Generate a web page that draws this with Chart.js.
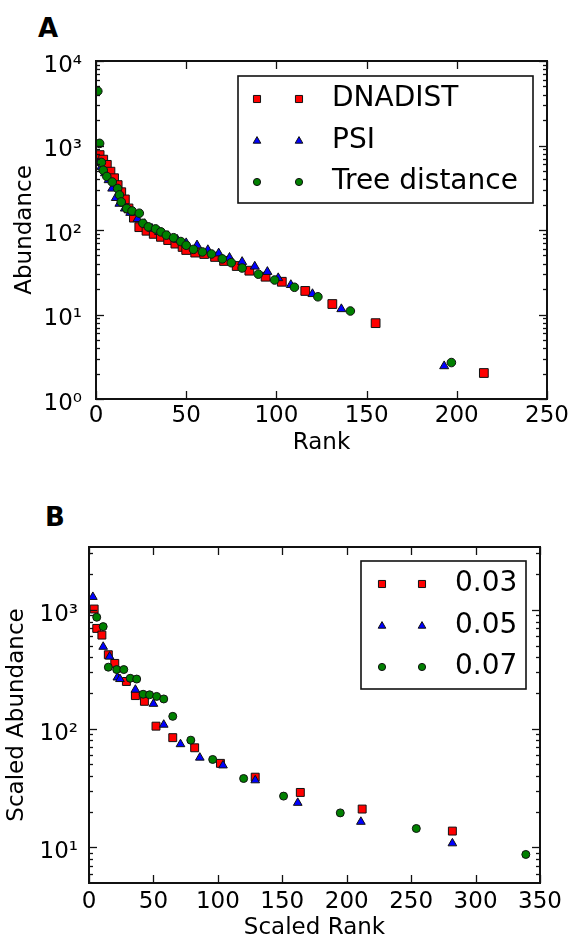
<!DOCTYPE html>
<html><head><meta charset="utf-8">
<script src="https://cdn.jsdelivr.net/npm/chart.js@4.4.1/dist/chart.umd.min.js"></script>
<style>
body{margin:0;background:#fff;width:577px;height:942px;position:relative;overflow:hidden;font-family:"DejaVu Sans",sans-serif;}
canvas{position:absolute;left:0;}
#cA{top:0;}
#cB{top:470px;}
.panel{position:absolute;font:bold 26px "DejaVu Sans";line-height:26px;color:#000;}
</style></head><body>
<div class="panel" style="left:38px;top:15px">A</div>
<div class="panel" style="left:45px;top:504px">B</div>
<canvas id="cA" width="577" height="470"></canvas>
<canvas id="cB" width="577" height="472"></canvas>
<script>
// ---------- Panel A data ----------
const seriesNamesA = ['DNADIST', 'PSI', 'Tree distance'];
const rankDnadist = [2,4,6,8,10,12,14,16,18,21,24,28,32,36,40,44,48,50,55,60,66,71,78,85,94,103,116,131,155,215];
const abundDnadist = [770,680,590,490,410,340,280,230,180,140,108,98,90,83,76,69,63,58,54,52,48,43,37.5,33,28,24.4,19,13.3,7.9,2.03];
const rankPsi = [1,3,5,7,9,11,13,16,19,23,27,31,35,40,45,50,56,62,68,74,81,88,95,101,108,120,136,193];
const abundPsi = [620,560,470,390,310,240,205,180,160,135,118,104,95,85,77,70,66,58,53,47,42,37,32,27,22.4,17.5,11.6,2.45];
const rankTree = [1,2,3,4,6,9,12,13,14,17,20,24,26,29,33,36,39,43,47,50,54,59,64,70,75,81,90,99,110,123,141,197];
const abundTree = [4400,1060,630,510,430,370,310,260,215,180,168,158,120,109,103,95,87,81,73,66,59,55,52,45.5,41,35.5,30,25.6,21,16.2,11,2.7];
const yTickValuesA = [1, 10, 100, 1000, 10000];
const yTickLabelsA = ['10\u2070', '10\u00B9', '10\u00B2', '10\u00B3', '10\u2074'];

// ---------- Panel B data ----------
const seriesNamesB = ['0.03', '0.05', '0.07'];
const srank003 = [4,6,10,15,20,29,36,43,52,65,82,102,129,164,212,282];
const sabund003 = [1020,700,615,420,355,250,190,170,105,84,69,51,39,29,21,13.7];
const srank005 = [3,11,16,22,24,36,50,58,71,86,104,129,162,211,282];
const sabund005 = [1290,490,405,270,262,213,162,108,74,57,49,36.7,23.7,16.4,10.8];
const srank007 = [6,11,15,21.5,27,32,37,42,47,52.5,58,65,79,96,120,151,195,254,339];
const sabund007 = [870,725,330,315,315,266,262,195,193,187,178,127,80,55,38,27,19.5,14.4,8.7];
const yTickValuesB = [10, 100, 1000];
const yTickLabelsB = ['10\u00B9', '10\u00B2', '10\u00B3'];

const FONT = 'DejaVu Sans';
const pts = (xs, ys) => xs.map((x, i) => ({x: x, y: ys[i]}));

const frameTicks = {
  id: 'frameTicks',
  afterDatasetsDraw(chart) {
    const {ctx, chartArea: a, scales: {x, y}} = chart;
    ctx.save();
    ctx.strokeStyle = '#111';
    ctx.lineWidth = 1.3;
    const seg = (x1, y1, x2, y2) => { ctx.beginPath(); ctx.moveTo(x1, y1); ctx.lineTo(x2, y2); ctx.stroke(); };
    x.ticks.forEach(t => {
      const px = Math.round(x.getPixelForValue(t.value)) + 0.5;
      seg(px, a.bottom, px, a.bottom - 8);
      seg(px, a.top, px, a.top + 8);
    });
    y.ticks.forEach(t => {
      const py = Math.round(y.getPixelForValue(t.value)) + 0.5;
      seg(a.left, py, a.left + 8, py);
      seg(a.right, py, a.right - 8, py);
    });
    const lo = Math.floor(Math.log10(y.min)), hi = Math.ceil(Math.log10(y.max));
    for (let k = lo; k <= hi; k++) {
      for (let m = 2; m <= 9; m++) {
        const v = m * Math.pow(10, k);
        if (v <= y.min || v >= y.max) continue;
        const py = Math.round(y.getPixelForValue(v)) + 0.5;
        seg(a.left, py, a.left + 4, py);
        seg(a.right, py, a.right - 4, py);
      }
    }
    ctx.lineWidth = 2;
    ctx.strokeRect(a.left, a.top, a.right - a.left, a.bottom - a.top);
    ctx.restore();
  }
};

const boxLegend = {
  id: 'boxLegend',
  afterDraw(chart, args, o) {
    if (!o || !o.box) return;
    const ctx = chart.ctx;
    ctx.save();
    const [x0, y0, x1, y1] = o.box;
    ctx.fillStyle = '#fff';
    ctx.fillRect(x0, y0, x1 - x0, y1 - y0);
    ctx.strokeStyle = '#111';
    ctx.lineWidth = 1.6;
    ctx.strokeRect(x0, y0, x1 - x0, y1 - y0);
    chart.data.datasets.forEach((ds, i) => {
      const yy = o.rowY[i];
      o.markerX.forEach(mx => {
        ctx.fillStyle = ds.backgroundColor;
        ctx.strokeStyle = ds.borderColor;
        ctx.lineWidth = 1;
        Chart.helpers.drawPoint(ctx, {pointStyle: ds.pointStyle, radius: o.markerRadius[i], borderWidth: 1, rotation: 0}, mx, yy);
      });
      ctx.fillStyle = '#000';
      ctx.font = o.fontSize + 'px "' + FONT + '"';
      ctx.textBaseline = 'middle';
      ctx.textAlign = 'left';
      ctx.fillText(ds.label, o.textX, yy);
    });
    ctx.restore();
  }
};

function makeChart(canvasId, cfg) {
  const datasets = cfg.series.map((s, i) => ({
    label: s.label,
    data: s.data,
    pointStyle: s.style,
    pointRadius: s.radius,
    pointHoverRadius: s.radius,
    backgroundColor: s.color,
    borderColor: '#111',
    pointBorderWidth: 1,
    borderWidth: 1,
    showLine: false,
    order: 3 - i
  }));
  return new Chart(document.getElementById(canvasId), {
    type: 'scatter',
    data: {datasets},
    options: {
      responsive: false,
      animation: false,
      devicePixelRatio: 1,
      layout: {padding: cfg.padding},
      plugins: {
        legend: {display: false},
        tooltip: {enabled: false},
        boxLegend: cfg.legend
      },
      scales: {
        x: {
          type: 'linear', min: cfg.xMin, max: cfg.xMax,
          grid: {display: false, drawTicks: false},
          border: {display: false},
          ticks: {stepSize: cfg.xStep, color: '#000', padding: cfg.xLabelPad, font: {family: FONT, size: 23}, maxRotation: 0},
          title: {display: true, text: cfg.xTitle, color: '#000', font: {family: FONT, size: 23}, padding: {top: 0, bottom: cfg.xTitlePad}},
          afterFit: s => { s.height = cfg.xAxisHeight; }
        },
        y: {
          type: 'logarithmic', min: cfg.yMin, max: cfg.yMax,
          grid: {display: false, drawTicks: false},
          border: {display: false},
          afterBuildTicks: s => { s.ticks = cfg.yTicks.map(v => ({value: v, major: true})); },
          ticks: {
            color: '#000', padding: cfg.yLabelPad, labelOffset: 5,
            font: {family: FONT, size: 23},
            callback: v => { const i = cfg.yTicks.indexOf(v); return i >= 0 ? cfg.yLabels[i] : ''; }
          },
          title: {display: true, text: cfg.yTitle, color: '#000', font: {family: FONT, size: 23}, padding: {top: cfg.yTitlePad, bottom: 0}},
          afterFit: s => { s.width = cfg.yAxisWidth; }
        }
      }
    },
    plugins: [frameTicks, boxLegend]
  });
}

makeChart('cA', {
  series: [
    {label: seriesNamesA[0], data: pts(rankDnadist, abundDnadist), style: 'rect', radius: 6.2, color: '#ff0000'},
    {label: seriesNamesA[1], data: pts(rankPsi, abundPsi), style: 'triangle', radius: 5.2, color: '#0000ff'},
    {label: seriesNamesA[2], data: pts(rankTree, abundTree), style: 'circle', radius: 4.3, color: '#008000'}
  ],
  padding: {top: 61, right: 30, left: 0, bottom: 0},
  xMin: 0, xMax: 250, xStep: 50,
  yMin: 1, yMax: 10000, yTicks: yTickValuesA, yLabels: yTickLabelsA,
  xTitle: 'Rank', yTitle: 'Abundance',
  xAxisHeight: 71, yAxisWidth: 96,
  xLabelPad: 3, yLabelPad: 14, xTitlePad: 13, yTitlePad: 11,
  legend: {box: [238, 76, 533, 203], markerX: [257, 299], textX: 332, rowY: [99, 141, 182], markerRadius: [5, 4.4, 3.6], fontSize: 28}
});

makeChart('cB', {
  series: [
    {label: seriesNamesB[0], data: pts(srank003, sabund003), style: 'rect', radius: 5.6, color: '#ff0000'},
    {label: seriesNamesB[1], data: pts(srank005, sabund005), style: 'triangle', radius: 5, color: '#0000ff'},
    {label: seriesNamesB[2], data: pts(srank007, sabund007), style: 'circle', radius: 4, color: '#008000'}
  ],
  padding: {top: 77, right: 37, left: 0, bottom: 0},
  xMin: 0, xMax: 350, xStep: 50,
  yMin: 5, yMax: 3400, yTicks: yTickValuesB, yLabels: yTickLabelsB,
  xTitle: 'Scaled Rank', yTitle: 'Scaled Abundance',
  xAxisHeight: 59, yAxisWidth: 89,
  xLabelPad: 5, yLabelPad: 11, xTitlePad: 0, yTitlePad: 3,
  legend: {box: [361, 91, 526, 219], markerX: [382, 422], textX: 455, rowY: [114, 156, 197], markerRadius: [5, 4.4, 3.6], fontSize: 28}
});
</script>
</body></html>
